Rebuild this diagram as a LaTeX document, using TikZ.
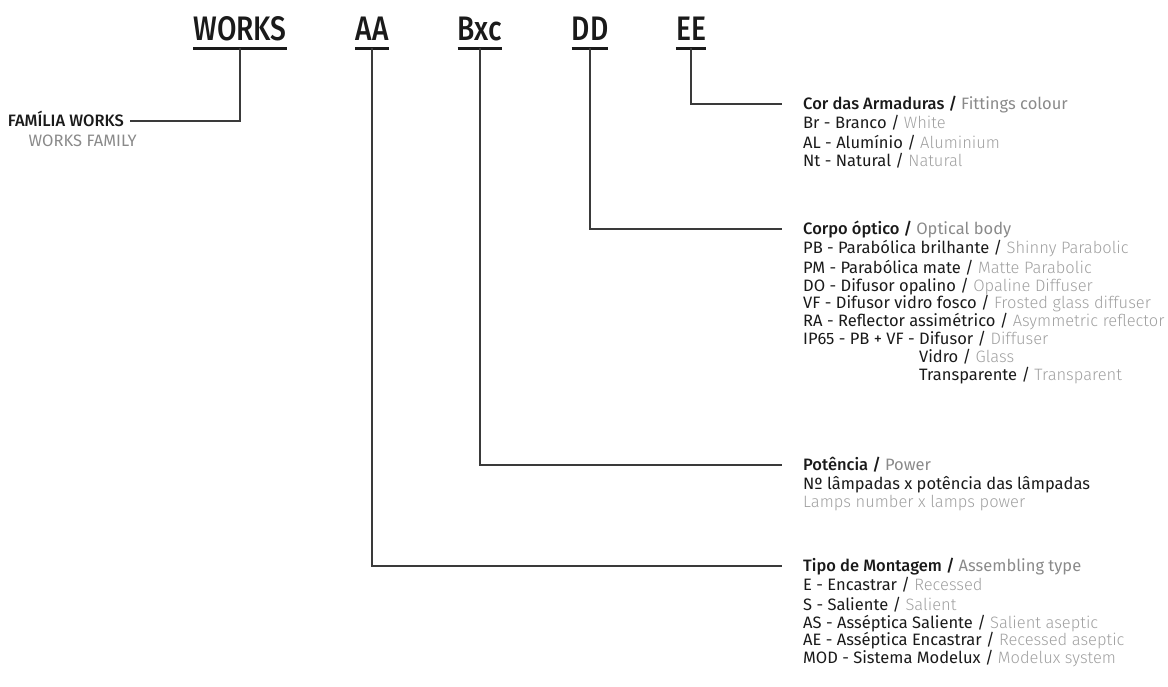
\documentclass[tikz,border=0pt]{standalone}
\usepackage{fontspec}
\setmainfont{Fira Sans}[BoldFont={Fira Sans Medium}]
\newfontfamily\lightf{Fira Sans Light}
\newfontfamily\hdrf{Fira Sans Medium}[FakeStretch=0.83]
\definecolor{ink}{HTML}{1A1A1A}
\definecolor{gr}{HTML}{A0A0A0}
\definecolor{grt}{HTML}{8A8A8A}
\definecolor{ln}{HTML}{3A3A3A}
\newcommand{\en}[1]{{\lightf\color{gr}#1}}
\newcommand{\ent}[1]{{\mdseries\color{grt}#1}}
\begin{document}
\begin{tikzpicture}[x=1pt,y=-1pt,
  hdr/.style={inner sep=0pt, anchor=base, font=\hdrf\fontsize{34}{34}\selectfont, text=ink},
  ul/.style={line width=3pt, ink},
  conn/.style={line width=1.1pt, ln},
  ttl/.style={inner sep=0pt, anchor=base west, font=\bfseries\fontsize{16.5}{17.9}\selectfont, text=ink},
  lst/.style={inner sep=0pt, anchor=north west, align=left, font=\fontsize{16.5}{17.9}\selectfont, text=ink},
  lbl/.style={inner sep=0pt, font=\fontsize{16.5}{17.9}\selectfont}]
\useasboundingbox (0,0) rectangle (1168,686);
% headers
\node[hdr] (works) at (240,40) {WORKS};
\node[hdr] (aa) at (372,40) {AA};
\node[hdr] (bxc) at (480,40) {Bxc};
\node[hdr] (dd) at (590,40) {DD};
\node[hdr] (ee) at (691,40) {EE};
\foreach \n in {works,aa,bxc,dd,ee}{
  \draw[ul] ([yshift=-8pt]\n.base west) -- ([yshift=-8pt]\n.base east);
}
% left label
\node[lbl, anchor=base east, font=\bfseries\fontsize{16.5}{17.9}\selectfont, text=ink] (fam) at (124,126.5) {FAMÍLIA WORKS};
\node[lbl, anchor=base east, text=grt] (famen) at (137,146) {WORKS FAMILY};
% right blocks
\node[ttl] (tee) at (803,109.5) {Cor das Armaduras / \ent{Fittings colour}};
\node[lst] (lee) at ([yshift=-5.4pt]tee.base west) {\strut Br - Branco / \en{White}\\AL - Alumínio / \en{Aluminium}\\Nt - Natural / \en{Natural}};
\node[ttl] (tdd) at (803,234.5) {Corpo óptico / \ent{Optical body}};
\node[lst] (ldd) at ([yshift=-5.4pt]tdd.base west) {\strut PB - Parabólica brilhante / \en{Shinny Parabolic}\\
PM - Parabólica mate / \en{Matte Parabolic}\\
DO - Difusor opalino / \en{Opaline Diffuser}\\
VF - Difusor vidro fosco / \en{Frosted glass diffuser}\\
RA - Reflector assimétrico / \en{Asymmetric reflector}\\
IP65 - PB + VF - Difusor / \en{Diffuser}\\
\phantom{IP65 - PB + VF - }Vidro / \en{Glass}\\
\phantom{IP65 - PB + VF - }Transparente / \en{Transparent}};
\node[ttl] (tbx) at (803,470.5) {Potência / \ent{Power}};
\node[lst] (lbx) at ([yshift=-5.4pt]tbx.base west) {\strut Nº lâmpadas x potência das lâmpadas\\ \en{Lamps number x lamps power}};
\node[ttl] (taa) at (803,571.5) {Tipo de Montagem / \ent{Assembling type}};
\node[lst] (laa) at ([yshift=-5.4pt]taa.base west) {\strut E - Encastrar / \en{Recessed}\\
S - Saliente / \en{Salient}\\
AS - Asséptica Saliente / \en{Salient aseptic}\\
AE - Asséptica Encastrar / \en{Recessed aseptic}\\
MOD - Sistema Modelux / \en{Modelux system}};
% connectors
\draw[conn] ([yshift=-8pt]works.base) |- ([xshift=6pt,yshift=5.5pt]fam.base east);
\draw[conn] ([yshift=-8pt]ee.base) |- ([xshift=-21pt,yshift=5.5pt]tee.base west);
\draw[conn] ([yshift=-8pt]dd.base) |- ([xshift=-21pt,yshift=5.5pt]tdd.base west);
\draw[conn] ([yshift=-8pt]bxc.base) |- ([xshift=-21pt,yshift=5.5pt]tbx.base west);
\draw[conn] ([yshift=-8pt]aa.base) |- ([xshift=-21pt,yshift=5.5pt]taa.base west);
\end{tikzpicture}
\end{document}
